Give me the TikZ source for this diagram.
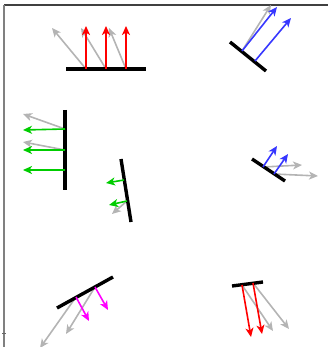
\documentclass[tikz,border=0pt]{standalone}
\usetikzlibrary{arrows.meta}
\definecolor{rgray}{RGB}{180,180,180}
\definecolor{rblue}{RGB}{55,55,255}
\definecolor{rgreen}{RGB}{0,205,0}
\definecolor{rmag}{RGB}{255,0,255}
\tikzset{
  bar/.style={line width=3.4pt,black},
  ray/.style={line width=1.6pt,-{Stealth[length=9pt,width=8pt,inset=2.5pt]}},
  gray ray/.style={ray,rgray},
  frame/.style={line width=1.2pt}
}
\begin{document}
\begin{tikzpicture}[x=1pt,y=-1pt]
\useasboundingbox (0,0) rectangle (328,347);
% axes frame
\coordinate (fTL) at (4,5);
\coordinate (fTR) at (328,5);
\coordinate (fBL) at (4,347);
\coordinate (tk1) at (2,333);
\coordinate (tk2) at (6,333);
\draw[frame,black!75] (fTL) -- (fTR);
\draw[frame,black!50] (fTL) -- (fBL);
\draw[line width=0.8pt,black!60] (tk1) -- (tk2);

% element 1 (top left)
\coordinate (a1) at (66,69); \coordinate (a2) at (146,69);
\coordinate (p11) at (86,69); \coordinate (p12) at (106,69); \coordinate (p13) at (126,69);
\coordinate (r11) at (86,26); \coordinate (r12) at (106,26); \coordinate (r13) at (126,26);
\coordinate (g11) at (52,28); \coordinate (g12) at (81,28); \coordinate (g13) at (109,28);
\draw[gray ray] (p11) -- (g11);
\draw[gray ray] (p12) -- (g12);
\draw[gray ray] (p13) -- (g13);
\draw[bar] (a1) -- (a2);
\draw[ray,red] (p11) -- (r11);
\draw[ray,red] (p12) -- (r12);
\draw[ray,red] (p13) -- (r13);

% element 2 (top right)
\coordinate (b1) at (230,42); \coordinate (b2) at (266,71);
\coordinate (p21) at (242,51); \coordinate (p22) at (255,61);
\coordinate (r21) at (277,7); \coordinate (r22) at (291,18);
\coordinate (g21) at (271,5);
\draw[gray ray] (p21) -- (g21);
\draw[bar] (b1) -- (b2);
\draw[ray,rblue] (p21) -- (r21);
\draw[ray,rblue] (p22) -- (r22);

% element 3 (left middle)
\coordinate (c1) at (65,110); \coordinate (c2) at (65,190);
\coordinate (p31) at (65,129); \coordinate (p32) at (65,150); \coordinate (p33) at (65,170);
\coordinate (r31) at (23,130); \coordinate (r32) at (23,150); \coordinate (r33) at (23,170);
\coordinate (g31) at (23,114); \coordinate (g32) at (23,142);
\draw[gray ray] (p31) -- (g31);
\draw[gray ray] (p32) -- (g32);
\draw[bar] (c1) -- (c2);
\draw[ray,rgreen] (p31) -- (r31);
\draw[ray,rgreen] (p32) -- (r32);
\draw[ray,rgreen] (p33) -- (r33);

% element 4 (centre)
\coordinate (d1) at (121,159); \coordinate (d2) at (131,222);
\coordinate (p41) at (124,180); \coordinate (p42) at (127,201);
\coordinate (r41) at (106,183); \coordinate (r42) at (109,205);
\coordinate (g42) at (112,214);
\draw[gray ray] (p42) -- (g42);
\draw[bar] (d1) -- (d2);
\draw[ray,rgreen] (p41) -- (r41);
\draw[ray,rgreen] (p42) -- (r42);

% element 5 (right middle)
\coordinate (e1) at (252,159); \coordinate (e2) at (285,181);
\coordinate (p51) at (263,167); \coordinate (p52) at (274,174);
\coordinate (r51) at (277,146); \coordinate (r52) at (288,154);
\coordinate (g51) at (302,165); \coordinate (g52) at (318,176);
\draw[gray ray] (p51) -- (g51);
\draw[gray ray] (p52) -- (g52);
\draw[bar] (e1) -- (e2);
\draw[ray,rblue] (p51) -- (r51);
\draw[ray,rblue] (p52) -- (r52);

% element 6 (bottom left)
\coordinate (f1) at (57,308); \coordinate (f2) at (113,277);
\coordinate (p61) at (76,297); \coordinate (p62) at (95,287);
\coordinate (r61) at (89,321); \coordinate (r62) at (108,310);
\coordinate (g61) at (40,348); \coordinate (g62) at (66,334);
\draw[gray ray] (p61) -- (g61);
\draw[gray ray] (p62) -- (g62);
\draw[bar] (f1) -- (f2);
\draw[ray,rmag] (p61) -- (r61);
\draw[ray,rmag] (p62) -- (r62);

% element 7 (bottom right)
\coordinate (h1) at (232,286); \coordinate (h2) at (263,282);
\coordinate (p71) at (242,285); \coordinate (p72) at (253,283);
\coordinate (r71) at (251,337); \coordinate (r72) at (262,334);
\coordinate (g71) at (273,331); \coordinate (g72) at (289,329);
\draw[gray ray] (p71) -- (g71);
\draw[gray ray] (p72) -- (g72);
\draw[bar] (h1) -- (h2);
\draw[ray,red] (p71) -- (r71);
\draw[ray,red] (p72) -- (r72);
\end{tikzpicture}
\end{document}
